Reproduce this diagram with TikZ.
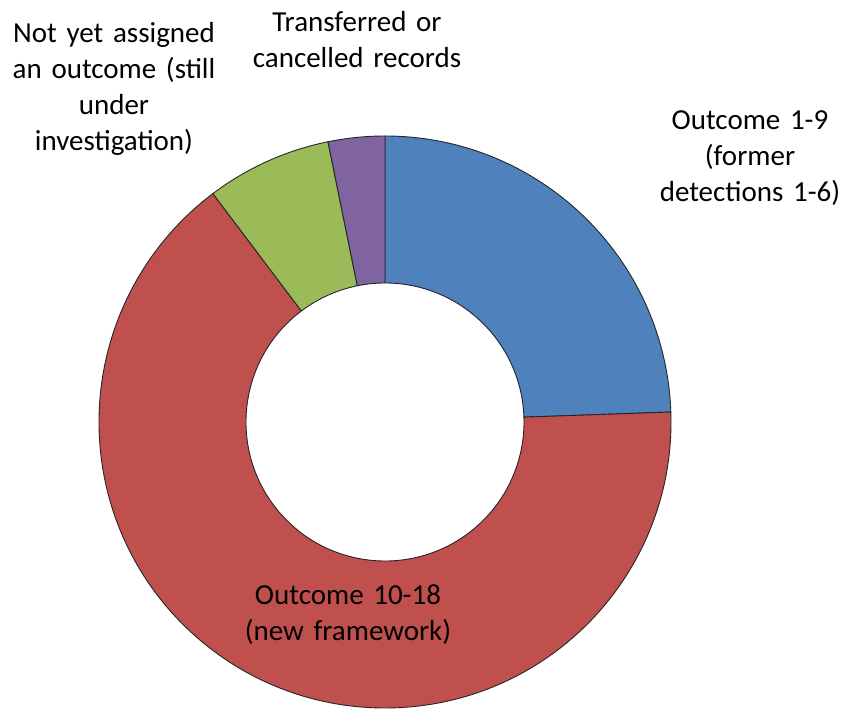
\documentclass[tikz,border=0pt]{standalone}
\usepackage{fontspec}
\setmainfont{Carlito}
\definecolor{segblue}{HTML}{4F81BD}
\definecolor{segred}{HTML}{C0504D}
\definecolor{seggreen}{HTML}{9BBB59}
\definecolor{segpurple}{HTML}{8064A2}
\begin{document}
\begin{tikzpicture}[x=1pt,y=1pt,
  wedge/.style={draw=black!85,line width=0.9pt,line join=round},
  lbl/.style={font=\fontsize{29}{36}\selectfont,align=center,anchor=base,inner sep=0pt,text=black}]
\useasboundingbox (0,0) rectangle (841,709);
\coordinate (c) at (385,287);
\def\Ro{286pt}
\def\Ri{139pt}
\newcommand{\donutwedge}[3]{%
  \path[wedge,fill=#3] ([shift={(#1:\Ro)}]c) arc[start angle=#1,end angle=#2,radius=\Ro]
    -- ([shift={(#2:\Ri)}]c) arc[start angle=#2,end angle=#1,radius=\Ri] -- cycle;}
\donutwedge{90}{2}{segblue}
\donutwedge{2}{-233}{segred}
\donutwedge{127}{101.5}{seggreen}
\donutwedge{101.5}{90}{segpurple}
\node[lbl,text width=240pt] (notyet) at (114,666) {Not yet assigned\\an outcome (still\\under\\investigation)};
\node[lbl,text width=240pt] (transf) at (357,677) {Transferred or\\cancelled records};
\node[lbl,text width=200pt] (out19) at (750,579) {Outcome 1-9\\(former\\detections 1-6)};
\node[lbl,text width=240pt] (out1018) at (348,104) {Outcome 10-18\\(new framework)};
\end{tikzpicture}
\end{document}
